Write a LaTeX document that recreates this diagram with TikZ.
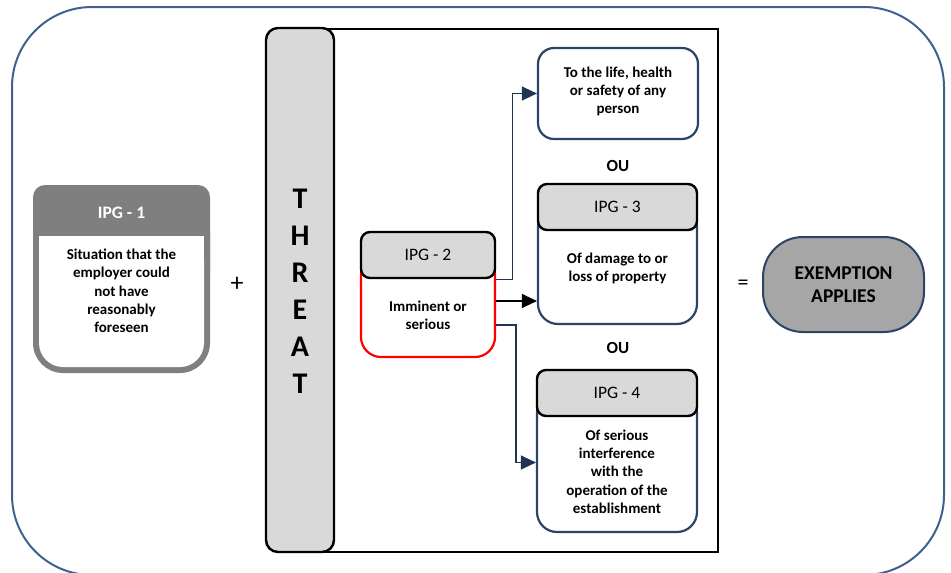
\documentclass[tikz,border=0pt]{standalone}
\usepackage{fontspec}
\setmainfont{Carlito}
\usetikzlibrary{arrows.meta,calc}
\definecolor{outerblue}{HTML}{3E6191}
\definecolor{navy}{HTML}{2B4466}
\definecolor{arrnavy}{HTML}{1F3553}
\definecolor{hdrgray}{HTML}{D9D9D9}
\definecolor{darkgrayone}{HTML}{7F7F7F}
\definecolor{exgray}{HTML}{A6A6A6}
\definecolor{ipgred}{HTML}{FF0000}
\begin{document}
\begin{tikzpicture}[x=1pt,y=-1pt,
  bodytext/.style={font=\bfseries\fontsize{15}{18.3}\selectfont, align=center, inner sep=0pt},
  hdr/.style={draw=black, line width=2.4pt, fill=hdrgray, rounded corners=9pt, minimum height=46pt, inner sep=0pt, font=\fontsize{17.5}{20}\selectfont},
  bodybox/.style={draw=navy, line width=2.2pt, fill=white, rounded corners=20pt, inner sep=0pt},
  navyarrow/.style={draw=arrnavy, line width=1.4pt, -{Triangle[length=15pt,width=14pt]}},
  blackarrow/.style={draw=black, line width=1.4pt, -{Triangle[length=15pt,width=14pt]}},
  blank/.style={inner sep=0pt, outer sep=0pt},
]
\useasboundingbox (0,0) rectangle (951,573);
\fill[white] (0,0) rectangle (951,573);

% outer frame
\node[blank, draw=outerblue, line width=2pt, rounded corners=80pt, minimum width=932pt, minimum height=568pt] (frame) at (478,291) {};

% threat frame and bar
\node[blank, draw=black, line width=2pt, minimum width=418pt, minimum height=523pt] (threatframe) at (509,290.5) {};
\node[blank, draw=black, line width=2.4pt, fill=hdrgray, rounded corners=12pt, minimum width=68pt, minimum height=524pt] (threat) at (300,290) {};
\node[font=\bfseries\fontsize{30}{37}\selectfont, align=center, inner sep=0pt] (threatword) at (300,291.5) {T\\H\\R\\E\\A\\T};

% IPG-1
\node[blank, fill=darkgrayone, rounded corners=12pt, minimum width=177pt, minimum height=100pt, anchor=north] (ipgonetop) at (121.5,185) {};
\node[blank, fill=darkgrayone, rounded corners=30pt, minimum width=177pt, minimum height=170pt, anchor=south] (ipgone) at (121.5,373) {};
\node[blank, fill=white, rounded corners=24pt, minimum width=165pt, minimum height=131pt, anchor=north] (ipgonebody) at (121.5,236) {};
\node[blank, fill=white, minimum width=165pt, minimum height=40pt, anchor=north] (ipgonebodytop) at (121.5,236) {};
\node[font=\bfseries\fontsize{17.5}{20}\selectfont, text=white, inner sep=0pt] (ipgoneh) at (121.5,213) {IPG - 1};
\node[bodytext] (ipgonet) at (121.5,291) {Situation that the\\employer could\\not have\\reasonably\\foreseen};

\node[font=\fontsize{26}{28}\selectfont, inner sep=0pt] (plus) at (237,284) {+};

% IPG-2
\node[bodybox, draw=ipgred, minimum width=134pt, minimum height=102pt] (ipgtwob) at (428,306) {};
\node[hdr, minimum width=134pt] (ipgtwoh) at (428,255) {IPG - 2};
\node[bodytext] (ipgtwot) at (428,315.5) {Imminent or\\serious};

% life box
\node[bodybox, minimum width=160pt, minimum height=91pt, rounded corners=16pt] (life) at (618,93.5) {};
\node[bodytext] (lifet) at (618,91.5) {To the life, health\\or safety of any\\person};

\node[font=\bfseries\fontsize{17}{20}\selectfont, inner sep=0pt] (ouone) at (618,166) {OU};

% IPG-3
\node[bodybox, minimum width=159pt, minimum height=117pt] (ipgthreeb) at (617.5,265.5) {};
\node[hdr, minimum width=159pt] (ipgthreeh) at (617.5,207) {IPG - 3};
\node[bodytext] (ipgthreet) at (617.5,268.5) {Of damage to or\\loss of property};

\node[font=\bfseries\fontsize{17}{20}\selectfont, inner sep=0pt] (outwo) at (618,348) {OU};

% IPG-4
\node[bodybox, minimum width=160pt, minimum height=139pt] (ipgfourb) at (617,462.5) {};
\node[hdr, minimum width=160pt] (ipgfourh) at (617,393) {IPG - 4};
\node[bodytext] (ipgfourt) at (617,471.5) {Of serious\\interference\\with the\\operation of the\\establishment};

% equals and exemption
\node[font=\fontsize{22}{24}\selectfont, inner sep=0pt] (equals) at (743,285) {=};
\node[draw=navy, line width=2pt, fill=exgray, rounded corners=40pt, minimum width=161pt, minimum height=95pt, inner sep=0pt, font=\bfseries\fontsize{19.5}{23}\selectfont, align=center] (exempt) at (843.5,284.5) {EXEMPTION\\APPLIES};

% arrows
\draw[navyarrow] (ipgtwoh.south east) -- ++(16,0) |- (life.west);
\coordinate (stwo) at ($(ipgtwob.east)+(0,-5)$);
\draw[blackarrow] (stwo) -- (stwo -| ipgthreeb.west);
\coordinate (sthree) at ($(ipgtwob.east)+(0,19)$);
\draw[navyarrow] (sthree) -- ++(20,0) |- (ipgfourb.west);
\end{tikzpicture}
\end{document}
